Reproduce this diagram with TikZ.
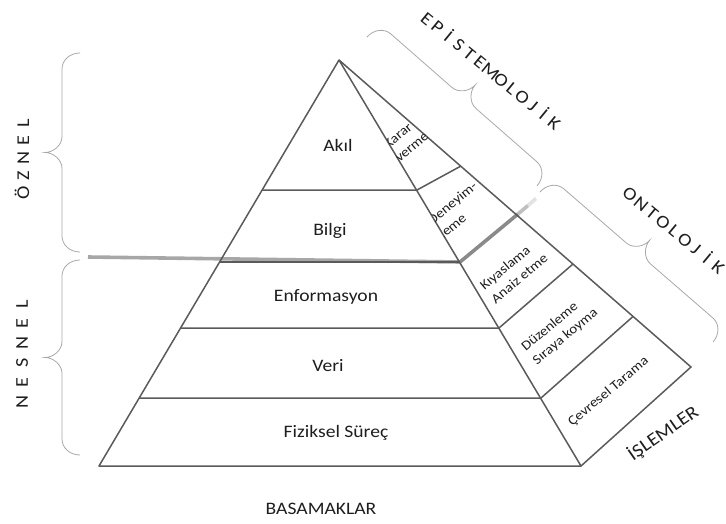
\documentclass[tikz,border=0pt]{standalone}
\usepackage{fontspec}
\setmainfont[FakeStretch=1.12]{Carlito}
\definecolor{edgec}{HTML}{5A5A5A}
\definecolor{bracec}{HTML}{A8A8A8}
\definecolor{txtc}{HTML}{1E1E1E}
\definecolor{thickc}{HTML}{8A8A8A}
\newlength\lbw
\newcommand\lb[1]{\makebox[\lbw][c]{#1}}
\newcommand\mybrace[5]{%
  \begin{scope}[shift={(#1,#2)},rotate=#3]
  \draw[bracestyle] (0,0) .. controls (0,{#5*10}) and (7,{#5*18}) .. (16,{#5*18})
   -- ({#4/2-16},{#5*18}) .. controls ({#4/2-7},{#5*18}) and ({#4/2},{#5*27}) .. ({#4/2},{#5*35})
   .. controls ({#4/2},{#5*27}) and ({#4/2+7},{#5*18}) .. ({#4/2+16},{#5*18})
   -- ({#4-16},{#5*18}) .. controls ({#4-7},{#5*18}) and (#4,{#5*10}) .. (#4,0);
  \end{scope}}
\tikzset{
  edge/.style={draw=edgec,line width=1.5pt,line join=round},
  bracestyle/.style={draw=bracec,line width=0.8pt},
  lab/.style={text=txtc,inner sep=0pt,font=\fontsize{17.5}{20}\selectfont},
  rlab/.style={text=txtc,inner sep=0pt,align=left,anchor=west,rotate=40,font=\fontsize{13.5}{17.5}\selectfont},
  spaced/.style={text=txtc,inner sep=0pt,font=\fontsize{18}{20}\selectfont},
}
\begin{document}
\begin{tikzpicture}[x=1pt,y=-1pt]
\useasboundingbox (0,0) rectangle (726,523);
% key points
\coordinate (apex) at (339,60);
\coordinate (lb) at (99,466);
\coordinate (fb) at (581,466);
\coordinate (rb) at (691,367);
\coordinate (l1) at (262,190); \coordinate (r1) at (417,190);
\coordinate (l2) at (220,262); \coordinate (r2) at (460,262);
\coordinate (l3) at (181,328); \coordinate (r3) at (499,328);
\coordinate (l4) at (139,398); \coordinate (r4) at (541,398);
\coordinate (o1) at (461,166);
\coordinate (o2) at (518,214);
\coordinate (o3) at (573,264);
\coordinate (o4) at (633,316.5);
% thick separator
\coordinate (t0) at (88,257);
\coordinate (t1) at (528,205.5);
\coordinate (t2) at (536,198.5);
\draw[line width=3.6pt,color=thickc!75] (t0) -- (r2);
\draw[line width=3.6pt,color=thickc] (r2) -- (o2);
\draw[line width=3.6pt,color=thickc!55] (o2) -- (t1);
\draw[line width=3.6pt,color=thickc!25] (t1) -- (t2);
% pyramid
\draw[edge] (apex) -- (lb) -- (fb) -- cycle;
\draw[edge] (apex) -- (rb) -- (fb);
\draw[edge] (l1) -- (r1) -- (o1);
\draw[edge] (l2) -- (r2);
\draw[edge] (l3) -- (r3) -- (o3);
\draw[edge] (l4) -- (r4) -- (o4);
% front labels
\node[lab] (akil) at (338,145) {Akıl};
\node[lab] (bilgi) at (330,231) {Bilgi};
\node[lab] (enf) at (326,297) {Enformasyon};
\node[lab] (veri) at (328,366) {Veri};
\node[lab] (fiz) at (336,433) {Fiziksel Süreç};
\node[lab] (bas) at (321,509) {BASAMAKLAR};
% right face labels
\begin{scope}
\clip (apex) -- (rb) -- (fb) -- cycle;
\node[rlab] (karar) at (391,153) {Karar\\verme};
\node[rlab] (deney) at (435,229) {Deneyim-\\leme};
\node[rlab] (kiyas) at (487,294) {Kıyaslama\\Anaiz etme};
\node[rlab] (duzen) at (529,356) {Düzenleme\\Sıraya koyma};
\node[rlab] (cevre) at (570,424) {Çevresel Tarama};
\end{scope}
\node[lab,rotate=35] (islem) at (663,433) {\fontsize{18.5}{20}\selectfont İŞLEMLER};
% braces
\mybrace{80}{53}{-90}{199}{1}
\mybrace{80}{260}{-90}{195}{1}
\mybrace{367}{37}{-41.2}{226}{-1}
\mybrace{540}{192}{-40.9}{229}{-1}
% spaced labels
\node[spaced,rotate=90] (oznel) at (22,158) {\setlength\lbw{17.5pt}\lb{Ö}\lb{Z}\lb{N}\lb{E}\lb{L}};
\node[spaced,rotate=90] (nesnel) at (22,353) {\setlength\lbw{19.5pt}\lb{N}\lb{E}\lb{S}\lb{N}\lb{E}\lb{L}};
\node[spaced,rotate=-39.3] (epis) at (491.5,70) {\setlength\lbw{13.7pt}\lb{E}\lb{P}\lb{İ}\lb{S}\lb{T}\lb{E}\lb{M}\lb{O}\lb{L}\lb{O}\lb{J}\lb{İ}\lb{K}};
\node[spaced,rotate=-39.7] (onto) at (675,230) {\setlength\lbw{14.3pt}\lb{O}\lb{N}\lb{T}\lb{O}\lb{L}\lb{O}\lb{J}\lb{İ}\lb{K}};
\end{tikzpicture}
\end{document}
